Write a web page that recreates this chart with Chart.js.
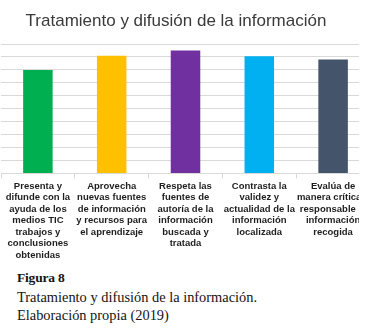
<!DOCTYPE html>
<html lang="es">
<head>
<meta charset="utf-8">
<title>Tratamiento y difusión de la información</title>
<script src="https://cdn.jsdelivr.net/npm/chart.js@4/dist/chart.umd.min.js"></script>
<style>
  html, body { margin: 0; padding: 0; background: #fff; }
  body { width: 369px; height: 334px; position: relative; overflow: hidden; }
  #frame { position: absolute; left: 0; top: 0; width: 359px; height: 264px; overflow: hidden; }
  #plot { position: absolute; left: -18px; top: 0; width: 390px; height: 264px; }
  #caption {
    position: absolute; left: 17px; top: 268px;
    font-family: "Liberation Serif", "DejaVu Serif", serif;
    color: #141414; font-size: 14.4px; line-height: 18.5px;
  }
  #caption b { font-size: 13.5px; letter-spacing: -0.2px; }
</style>
</head>
<body>
<div id="frame"><div id="plot"><canvas id="chart"></canvas></div></div>
<div id="caption"><b>Figura 8</b><br>Tratamiento y difusión de la información.<br>Elaboración propia (2019)</div>
<script>
// Competencias evaluadas (etiquetas del eje, ya partidas en líneas)
const categories = [
  ["Presenta y", "difunde con la", "ayuda de los", "medios TIC", "trabajos y", "conclusiones", "obtenidas"],
  ["Aprovecha", "nuevas fuentes", "de información", "y recursos para", "el aprendizaje"],
  ["Respeta las", "fuentes de", "autoría de la", "información", "buscada y", "tratada"],
  ["Contrasta la", "validez y", "actualidad de la", "información", "localizada"],
  ["Evalúa de", "manera crítica y", "responsable la", "información", "recogida"]
];
// Porcentaje alcanzado en cada competencia
const values = [80, 91, 95, 90.5, 88];
const yTicks = [0, 10, 20, 30, 40, 50, 60, 70, 80, 90, 100];

const barColors = ["#00B050", "#FFC000", "#7030A0", "#00B0F0", "#44546A"];
const gridColor = "#d9d9d9";

new Chart(document.getElementById("chart"), {
  type: "bar",
  data: {
    labels: categories,
    datasets: [{
      data: values,
      backgroundColor: barColors,
      borderWidth: 0,
      categoryPercentage: 1,
      barPercentage: 0.4
    }]
  },
  options: {
    responsive: true,
    maintainAspectRatio: false,
    animation: false,
    layout: { padding: { left: 0, right: 2, top: 0, bottom: 1 } },
    plugins: {
      legend: { display: false },
      tooltip: { enabled: false },
      title: {
        display: true,
        text: "Tratamiento y difusión de la información",
        color: "#3a3a3a",
        font: { family: "'Liberation Sans', Arial, sans-serif", size: 17, weight: "normal", lineHeight: 1.2 },
        padding: { top: 11, bottom: 12.6 }
      }
    },
    scales: {
      x: {
        grid: { display: true, drawOnChartArea: false, drawTicks: true, tickLength: 5, color: gridColor, offset: true },
        border: { display: true, color: gridColor },
        ticks: {
          autoSkip: false, maxRotation: 0, minRotation: 0, padding: 2,
          color: "#1e1e1e",
          font: { family: "'Liberation Sans', Arial, sans-serif", size: 9.5, weight: "bold", lineHeight: "11.5px" }
        }
      },
      y: {
        min: 0, max: 100,
        afterBuildTicks: (scale) => { scale.ticks = yTicks.map(v => ({ value: v })); },
        afterFit: (scale) => { scale.width = 19; },
        ticks: { display: false },
        grid: { color: gridColor, drawTicks: false },
        border: { display: false }
      }
    }
  }
});
</script>
</body>
</html>
